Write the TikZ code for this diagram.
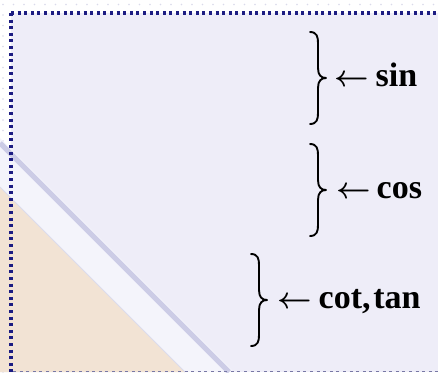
\RequirePackage{fix-cm}
\documentclass[tikz,border=0pt]{standalone}
\usepackage{fontspec}
\setmainfont{Liberation Serif}
\definecolor{boxc}{RGB}{238,237,248}
\definecolor{bandc}{RGB}{244,244,251}
\definecolor{tanc}{RGB}{242,227,212}
\definecolor{stripec}{RGB}{204,204,230}
\definecolor{dotc}{RGB}{218,218,234}
\definecolor{navyc}{RGB}{28,28,130}
\definecolor{lowc}{RGB}{120,120,165}
\newcommand{\larr}{{\fontsize{30}{34}\selectfont$\leftarrow$}}
\tikzset{
  lbl/.style={anchor=base west, inner sep=0pt, font=\fontsize{34}{38}\selectfont\bfseries\mathversion{bold}},
  bracepath/.style={line width=1.9pt, line cap=round, line join=round},
  pics/rbrace/.style={code={
    \draw[bracepath] (-16,-46) .. controls (-9,-46) and (-8,-41) .. (-8,-35)
      -- (-8,-10) .. controls (-8,-3) and (-5,0) .. (0,0)
      .. controls (-5,0) and (-8,3) .. (-8,10)
      -- (-8,35) .. controls (-8,41) and (-9,46) .. (-16,46);
  }},
  border/.style={navyc, line width=3.2pt, dash pattern=on 3pt off 3.6pt},
}
\begin{document}
\begin{tikzpicture}[x=1pt,y=-1pt]
\useasboundingbox (0,0) rectangle (438,372);
\fill[white] (0,0) rectangle (438,372);
% faint dot grid outside the box
\foreach \x in {3,13.5,...,438} \fill[dotc] (\x,4.5) circle (0.8pt);
\foreach \y in {15,25.5,...,372} \fill[dotc] (3,\y) circle (0.8pt);
% box fill
\fill[boxc] (11,13) rectangle (438,372);
% diagonal background decoration
\fill[bandc] (0,138) -- (234,372) -- (0,372) -- cycle;
\fill[tanc] (0,187) -- (185,372) -- (0,372) -- cycle;
\draw[stripec!70, line width=1pt] (0,187) -- (185,372);
\draw[stripec, line width=5pt] (0,143) -- (229,372);
% borders
\draw[border] (11,13) -- (438,13);
\draw[border] (11,13) -- (11,372);
\draw[lowc, line width=1.8pt, dash pattern=on 3pt off 3.6pt] (13,371.5) -- (438,371.5);
% braces
\pic (b1) at (326,78) {rbrace};
\pic (b2) at (326,190) {rbrace};
\pic (b3) at (267,300) {rbrace};
% labels
\node[lbl] (sinl) at (334,86) {\larr\hspace{7pt}sin};
\node[lbl] (cosl) at (336,198) {\larr\hspace{6pt}cos};
\node[lbl] (cotl) at (277,308) {\larr\hspace{7pt}cot,\hspace{0.08em}tan};
\end{tikzpicture}
\end{document}
